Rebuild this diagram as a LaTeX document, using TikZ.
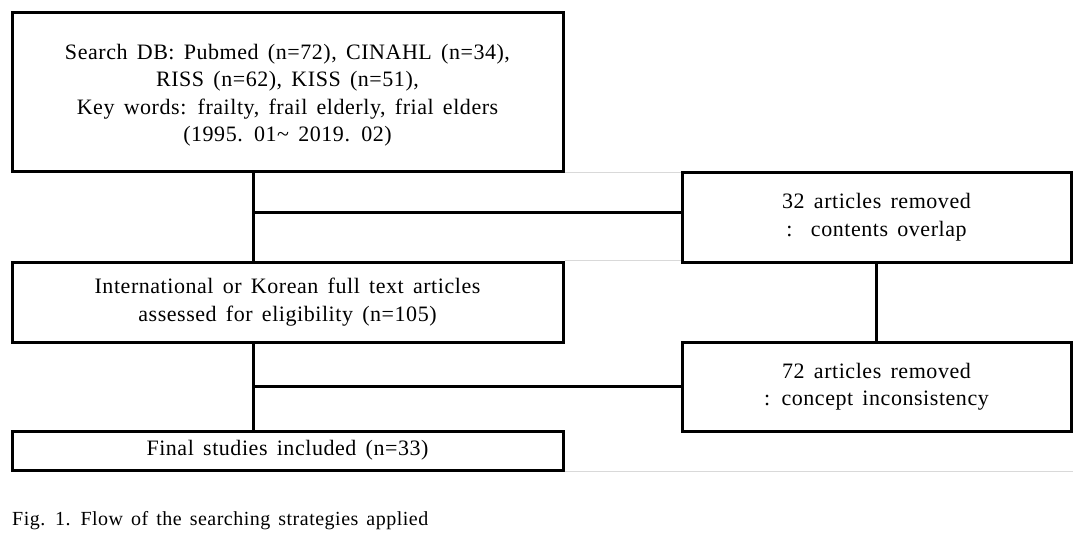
\documentclass[tikz,border=0pt]{standalone}
\usepackage{fontspec}
\setmainfont[LetterSpace=2.5]{Liberation Serif}
\usetikzlibrary{positioning,calc}
\newcommand{\boxfont}{\fontsize{22}{27.5}\selectfont\spaceskip=0.42em plus 0.1em}
\newcommand{\capfont}{\fontsize{20}{24}\selectfont\spaceskip=0.4em plus 0.1em}

\begin{document}
\begin{tikzpicture}[
        x=1pt, y=-1pt,
        box/.style={draw, line width=3pt, align=center, inner sep=0pt,
            font=\boxfont},
        link/.style={line width=3pt},
        rule/.style={black!15, line width=1pt},
    ]
    \useasboundingbox (0,0) rectangle (1091,536);
    % left column
    \node[box, minimum width=551pt, minimum height=159pt] (search) at (287.5,91.5)
        {\rule{0pt}{23pt}Search DB: Pubmed (n=72), CINAHL (n=34),\\
         RISS (n=62), KISS (n=51),\\
         Key words: frailty, frail elderly, frial elders\\
         (1995. 01\textasciitilde{} 2019. 02)};
    \node[box, minimum width=551pt, minimum height=80pt] (eligible) at (287.5,302)
        {International or Korean full text articles\\
         assessed for eligibility (n=105)};
    \node[box, minimum width=551pt, minimum height=39pt] (final) at (287.5,450.5)
        {Final studies included (n=33)};
    % right column
    \node[box, minimum width=389pt, minimum height=90pt] (overlap) at (876.5,217)
        {32 articles removed\\
         :\ \ contents overlap};
    \node[box, minimum width=389pt, minimum height=89pt] (inconsist) at (876.5,386.5)
        {72 articles removed\\
         : concept inconsistency};
    % connectors
    \coordinate (spine) at (253,0);
    \coordinate (cut1) at (253,212);
    \draw[link] (search.south -| spine) -- (eligible.north -| spine);
    \draw[link] (eligible.south -| spine) -- (final.north -| spine);
    \draw[link] (cut1) -- (cut1 -| overlap.west);
    \draw[link] (spine |- inconsist.west) -- (inconsist.west);
    \draw[link] (overlap.south) -- (inconsist.north);
    % faint table rules
    \draw[rule] (search.south east) -- (search.south east -| overlap.west);
    \draw[rule] (eligible.north east) -- (eligible.north east -| overlap.west);
    \draw[rule] (final.south east) -- (final.south east -| inconsist.east);
    % caption
    \node[anchor=west, inner sep=0pt, font=\capfont] (caption)
        at (12,521) {Fig. 1. Flow of the searching strategies applied};
\end{tikzpicture}
\end{document}
